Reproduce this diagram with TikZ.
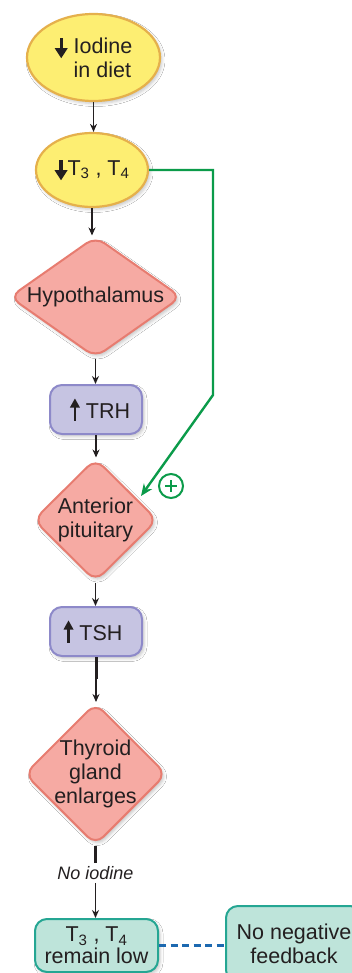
\documentclass[tikz,border=0pt]{standalone}
\usepackage{fontspec}
\setmainfont{Liberation Sans}
\usetikzlibrary{shapes.geometric,arrows.meta,shadows.blur}

\definecolor{ylwfill}{HTML}{FDEE72}
\definecolor{ylwline}{HTML}{E5B04C}
\definecolor{redfill}{HTML}{F6AAA3}
\definecolor{redline}{HTML}{E77C70}
\definecolor{purfill}{HTML}{C6C4E2}
\definecolor{purline}{HTML}{8D89C9}
\definecolor{tealfill}{HTML}{BEE4DA}
\definecolor{tealline}{HTML}{25A693}
\definecolor{fbgreen}{HTML}{0B9B4A}
\definecolor{dashblue}{HTML}{1D69B0}
\definecolor{ink}{HTML}{231F20}

% bold arrows used inside the labels
\newcommand\dnarr{\tikz[baseline=0pt,x=1pt,y=1pt,sharp corners]{\fill[ink] (-1.6,15.5) rectangle (1.6,3);
  \fill[ink] (-6.5,5) -- (6.5,5) -- (0,-5) -- cycle;}}
\newcommand\uparr{\tikz[baseline=0pt,x=1pt,y=1pt,sharp corners]{\fill[ink] (-1.3,-2) rectangle (1.3,12);
  \fill[ink] (-5,11) -- (5,11) -- (0,20) -- cycle;}}

\tikzset{
  txt/.style={font=\fontsize{21.5}{24}\selectfont, text=ink, align=center},
  softshadow/.style={blur shadow={shadow xshift=2pt, shadow yshift=-2.5pt,
      shadow blur radius=3pt, shadow opacity=22}},
  ellbox/.style={ellipse, draw=ylwline, fill=ylwfill, line width=2.2pt,
      inner sep=0pt, softshadow, txt},
  dmd/.style={diamond, draw=redline, fill=redfill, line width=2pt,
      rounded corners=11pt, inner sep=0pt, softshadow},
  dlabel/.style={txt, inner sep=0pt},
  hormone/.style={rectangle, rounded corners=12pt, draw=purline, fill=purfill,
      line width=2pt, minimum width=92, minimum height=49, inner sep=0pt,
      softshadow, txt},
  result/.style={rectangle, rounded corners=12pt, draw=tealline, fill=tealfill,
      line width=2pt, inner sep=0pt, softshadow, txt},
  arr/.style={draw=ink, line width=1.4pt, -{Stealth[length=8pt,width=7pt]}},
  stub/.style={draw=ink, line width=3pt},
  fb/.style={draw=fbgreen, line width=2.4pt, line join=miter,
      -{Stealth[length=12pt,width=10pt]}},
}

\begin{document}
\begin{tikzpicture}[x=1pt,y=-1pt]
\clip (0,0) rectangle (352,973);
\fill[white] (0,0) rectangle (352,973);

% chain of nodes
\node[ellbox, minimum width=133, minimum height=87, align=left] (iod) at (93.5,57.5)
  {\dnarr\ Iodine\\\hphantom{\dnarr\ }in diet};
\node[ellbox, minimum width=112, minimum height=74] (t34) at (92,170)
  {\dnarr T\textsubscript{3} , T\textsubscript{4}};
\node[dmd, minimum width=172, minimum height=121,
  label={[dlabel]center:Hypothalamus}] (hyp) at (95.5,297) {};
\node[hormone] (trh) at (96,409.5) {\hspace{8pt}\uparr\ TRH};
\node[dmd, minimum width=124, minimum height=123,
  label={[dlabel]center:Anterior\\pituitary}] (ap) at (95.5,520) {};
\node[hormone] (tsh) at (96,631.5) {\uparr\ TSH\hspace{6pt}};
\node[dmd, minimum width=142, minimum height=142,
  label={[dlabel]center:Thyroid\\gland\\enlarges}] (thy) at (95.5,774) {};
\node[txt, font=\fontsize{18}{22}\selectfont\itshape, inner sep=3pt] (noi) at (95.5,873) {No iodine};
\node[result, minimum width=123, minimum height=53] (low) at (96.5,945.5)
  {T\textsubscript{3} , T\textsubscript{4}\\[-2pt]remain low};
\node[result, minimum width=136, minimum height=76] (nofb) at (294,944)
  {No negative\\feedback};

% main sequence
\draw[arr] (iod.south) -- (iod.south |- t34.north);
\draw[arr] (t34.south) -- (t34.south |- hyp.north);
\draw[arr] (hyp.south) -- (hyp.south |- trh.north);
\draw[arr] (trh.south) -- (trh.south |- ap.north);
\draw[arr] (ap.south) -- (ap.south |- tsh.north);
\draw[stub] (tsh.south) -- ++(0,22);
\draw[arr] (tsh.south) -- (tsh.south |- thy.north);
\draw[stub] (thy.south) -- ++(0,17);
\draw[arr] (noi.south) -- (noi.south |- low.north);

% dashed link to the note
\draw[dashblue, line width=2.4pt, dash pattern=on 7pt off 4.5pt]
  (low.east) -- (low.east -| nofb.west);

% positive feedback loop
\coordinate (fbA) at (213,170);
\coordinate (fbB) at (213,395);
\coordinate (fbtip) at (141,496);
\draw[fb] (t34.east) -- (fbA) -- (fbB) -- (fbtip);
\node[circle, draw=fbgreen, line width=2pt, minimum size=24, inner sep=0pt] (plus) at (171,486) {};
\draw[fbgreen, line width=2pt] (plus.center) ++(-6,0) -- ++(12,0)
  (plus.center) ++(0,-6) -- ++(0,12);
\end{tikzpicture}
\end{document}
